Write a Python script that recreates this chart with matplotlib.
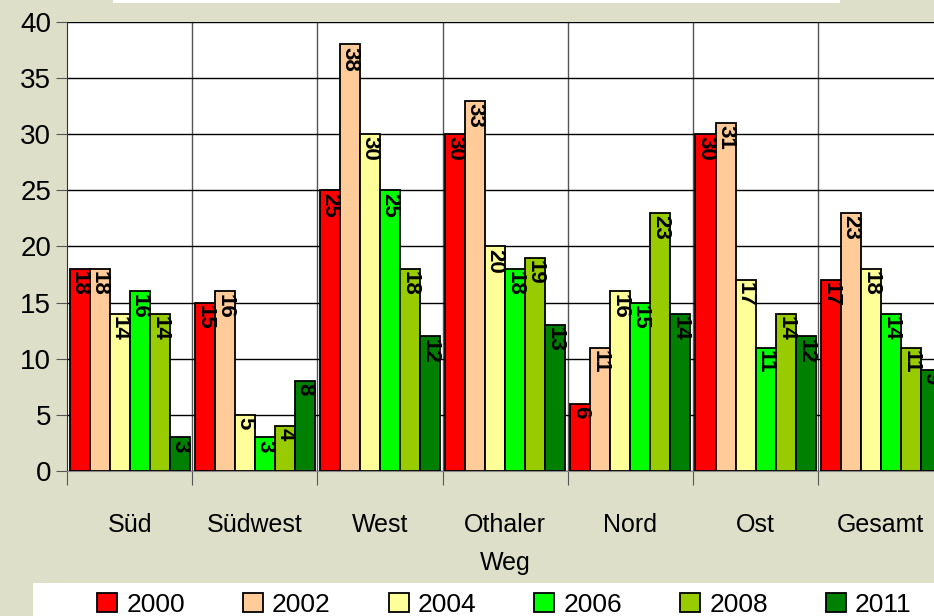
import numpy as np
import matplotlib.pyplot as plt
from matplotlib.patches import Rectangle

categories = ['Süd', 'Südwest', 'West', 'Othaler\nWeg', 'Nord', 'Ost', 'Gesamt']
years = ['2000', '2002', '2004', '2006', '2008', '2011']
values = {
    '2000': [18, 15, 25, 30, 6, 30, 17],
    '2002': [18, 16, 38, 33, 11, 31, 23],
    '2004': [14, 5, 30, 20, 16, 17, 18],
    '2006': [16, 3, 25, 18, 15, 11, 14],
    '2008': [14, 4, 18, 19, 23, 14, 11],
    '2011': [3, 8, 12, 13, 14, 12, 9],
}
colors = ['#ff0000', '#ffcc99', '#ffff99', '#00ff00', '#99cc00', '#008000']

plt.rcParams['font.family'] = ['Liberation Sans', 'DejaVu Sans']
bg = '#dedfc8'

fig = plt.figure(figsize=(9.34, 6.16), dpi=100, facecolor=bg)
ax = fig.add_axes([67/934, 1-471/616, 1-67/934, 449/616])
ax.set_facecolor('white')

x = np.arange(len(categories))
w = 0.16
for i, yr in enumerate(years):
    pos = x + (i - 2.5) * w
    bars = ax.bar(pos, values[yr], w, color=colors[i], edgecolor='black', linewidth=1.3, zorder=3, label=yr)
    for b, v in zip(bars, values[yr]):
        ax.text(b.get_x() + w/2, v - 0.2, str(v), rotation=270, ha='center', va='top',
                fontsize=16, fontweight='bold', zorder=4, clip_on=True)

ax.set_yticks(range(0, 41, 5))
ax.set_ylim(0, 40)
ax.yaxis.grid(True, color='black', linewidth=1, zorder=0)
for b in np.arange(0.5, len(categories) - 0.5):
    ax.axvline(b, color='#555555', linewidth=1, zorder=1)
ax.set_xticks(np.arange(-0.5, 7, 1))
ax.set_xticklabels([])
ax.set_xticks(x, minor=True)
ax.set_xticklabels(categories, minor=True, fontsize=18)
ax.set_xlim(-0.5, 6.425)
ax.tick_params(axis='x', which='minor', length=0, pad=30)
ax.tick_params(axis='x', which='major', length=10, color='#555555')
ax.tick_params(axis='y', labelsize=20, length=8, color='#555555')
for lab in ax.get_xticklabels(minor=True):
    lab.set_linespacing(1.75)
for s in ['top', 'right']:
    ax.spines[s].set_visible(False)
ax.spines['left'].set_color('#333333')
ax.spines['bottom'].set_color('#888888')

# white frames top and bottom
fig.patches.append(Rectangle((113/934, 1-3/616), 727/934, 3/616, transform=fig.transFigure,
                             facecolor='white', edgecolor='none'))
fig.patches.append(Rectangle((33/934, 0), 1, 33/616, transform=fig.transFigure,
                             facecolor='white', edgecolor='none'))

leg = fig.legend(loc='lower center', bbox_to_anchor=(0.54, -0.04), ncol=6, frameon=False,
                 fontsize=19, handlelength=0.75, handleheight=0.75, handletextpad=0.35, columnspacing=2.2)

fig.savefig('out.png', dpi=100, facecolor=bg)
